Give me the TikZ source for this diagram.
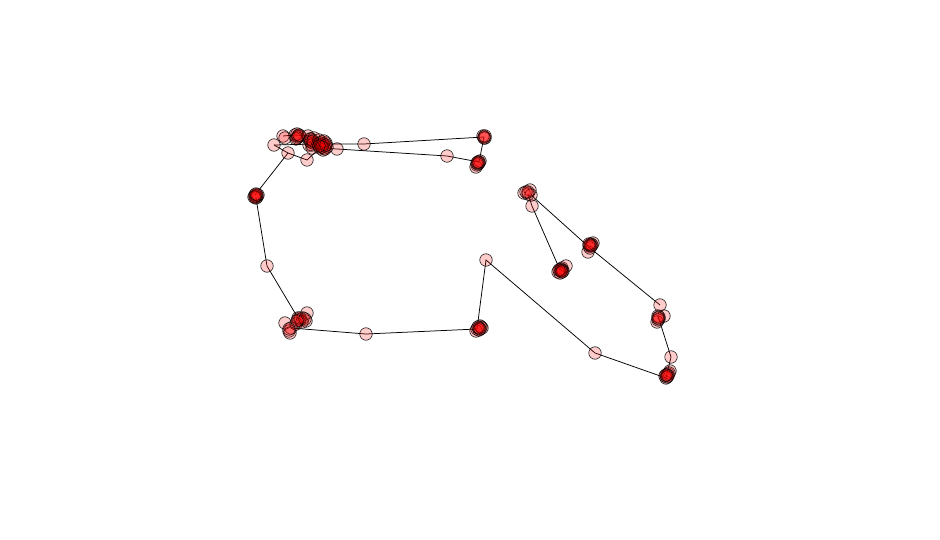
\documentclass[tikz,border=0pt]{standalone}
\usetikzlibrary{backgrounds}
\tikzset{
  pt/.style={circle, draw=black, fill=red, fill opacity=0.2, draw opacity=0.9, minimum size=12.5pt, inner sep=0pt, line width=0.6pt},
  edge/.style={draw=black, line width=0.75pt}
}
\begin{document}
\begin{tikzpicture}[x=1pt,y=-1pt]
\useasboundingbox (0,0) rectangle (940,540);
% single nodes
\node[pt] (a1) at (274,145) {};
\node[pt] (a2) at (283,136) {};
\node[pt] (a4) at (337,149) {};
\node[pt] (a5) at (364,144) {};
\node[pt] (a8) at (447,156) {};
\node[pt] (a9) at (288,153) {};
\node[pt] (a10) at (307,160) {};
\node[pt] (b1) at (267,266) {};
\node[pt] (b2) at (366,334) {};
\node[pt] (b3) at (486,260) {};
\node[pt] (b4) at (595,353) {};
\node[pt] (b5) at (671,357) {};
\node[pt] (b6) at (532,206) {};
% clusters
\foreach \x/\y [count=\i] in {285/138,295/135,298/137,300/136,296/139,297/134,298/136,297/138,299/135}
  \node[pt] (c1-\i) at (\x,\y) {};
\foreach \x/\y [count=\i] in {308/136,311/139,313/143,309/145,312/148,310/141,314/138,311/142,312/145,310/139,313/141}
  \node[pt] (c2-\i) at (\x,\y) {};
\foreach \x/\y [count=\i] in {318/144,322/142,325/146,320/148,323/150,327/147,319/140,326/143,322/145,324/148,321/146,323/144,325/149,320/143,324/141,322/147,326/145,319/146}
  \node[pt] (c3-\i) at (\x,\y) {};
\foreach \x/\y [count=\i] in {484/137,485/138,483/136,484/138,485/136}
  \node[pt] (c6t-\i) at (\x,\y) {};
\foreach \x/\y [count=\i] in {479/162,477/165,476/167,480/161,478/164,479/163,477/163,478/162}
  \node[pt] (a7-\i) at (\x,\y) {};
\foreach \x/\y [count=\i] in {255/195,257/197,256/198,258/195,254/197,256/196,257/195,255/197,256/194}
  \node[pt] (c4-\i) at (\x,\y) {};
\foreach \x/\y [count=\i] in {285/323,289/331,291/328,298/318,300/320,307/313,306/321,303/318,296/324,290/333,302/322,298/320,300/318,305/319,289/329,297/321}
  \node[pt] (c5-\i) at (\x,\y) {};
\foreach \x/\y [count=\i] in {477/329,480/326,482/328,476/331,479/330,481/327,479/328,478/327,480/329}
  \node[pt] (c6-\i) at (\x,\y) {};
\foreach \x/\y [count=\i] in {666/378,668/374,670/371,665/376,669/373,667/375,667/377,668/376,666/375}
  \node[pt] (c7-\i) at (\x,\y) {};
\foreach \x/\y [count=\i] in {660/305,658/316,664/316,657/322,659/319,658/320,659/317,658/318}
  \node[pt] (c8-\i) at (\x,\y) {};
\foreach \x/\y [count=\i] in {591/244,589/246,593/243,588/252,590/248,592/245,590/245,591/246,589/244}
  \node[pt] (c9-\i) at (\x,\y) {};
\foreach \x/\y [count=\i] in {524/193,530/190,528/194,531/195,526/192,528/192}
  \node[pt] (c10-\i) at (\x,\y) {};
\foreach \x/\y [count=\i] in {560/270,562/268,566/266,558/272,563/271,561/269,560/273,562/270,561/271,559/270,562/272}
  \node[pt] (c11-\i) at (\x,\y) {};
% edges
\begin{scope}[on background layer]
\draw[edge] (a1.center) -- (c3-1.center) -- (a5.center) -- (c6t-1.center) -- (a7-1.center) -- (a8.center) -- (a4.center) -- (c3-4.center);
\draw[edge] (a2.center) -- (c1-2.center) -- (c2-1.center) -- (c3-2.center);
\draw[edge] (c3-4.center) -- (a10.center) -- (a9.center) -- (c4-1.center);
\draw[edge] (a9.center) -- (a1.center);
\draw[edge] (c4-3.center) -- (b1.center) -- (c5-4.center);
\draw[edge] (c5-3.center) -- (b2.center) -- (c6-1.center) -- (b3.center) -- (b4.center) -- (c7-1.center) -- (b5.center) -- (c8-2.center);
\draw[edge] (c8-1.center) -- (c9-5.center) -- (c10-4.center);
\draw[edge] (c10-3.center) -- (b6.center) -- (c11-1.center);
\end{scope}
\end{tikzpicture}
\end{document}
